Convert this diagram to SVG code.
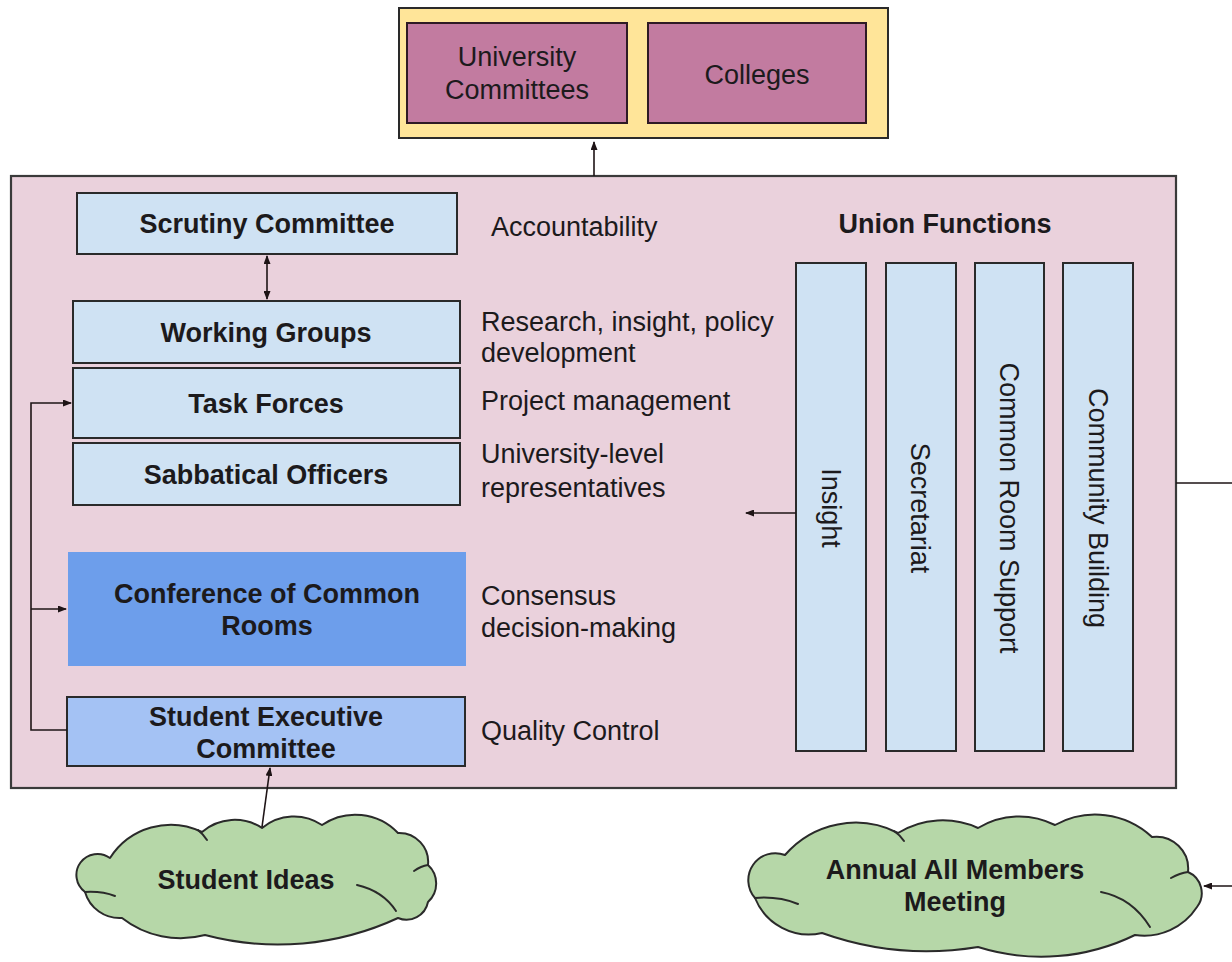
<svg xmlns="http://www.w3.org/2000/svg" width="1232" height="962" viewBox="0 0 1232 962">
  <style>
    .t { font-family: "Liberation Sans", Arial, sans-serif; font-size: 27px; fill: #1c1a1c; }
    .b { font-weight: bold; }
    .c { text-anchor: middle; }
    .box { fill: #cfe2f3; stroke: #2a2a2a; stroke-width: 2; }
    .uni { fill: #c27ba0; stroke: #2e1a24; stroke-width: 2; }
    .bar { fill: #cfe2f3; stroke: #2a2a2a; stroke-width: 2; }
    .cloud { fill: #b6d7a8; stroke: #2a2a2a; stroke-width: 2; stroke-linejoin: round; }
    .hook { fill: none; stroke: #2a2a2a; stroke-width: 2; stroke-linecap: round; }
    .wire { fill: none; stroke: #1e1416; stroke-width: 1.6; }
  </style>
  <defs>
    <marker id="arrow" markerUnits="userSpaceOnUse" markerWidth="9" markerHeight="7" refX="8" refY="3.5" orient="auto-start-reverse">
      <path d="M0,0 L9,3.5 L0,7 z" fill="#1e1416"/>
    </marker>
  </defs>

  <!-- external bodies -->
  <g id="external">
    <rect x="399" y="8" width="489" height="130" fill="#ffe599" stroke="#2a2a2a" stroke-width="2"/>
    <g id="university-committees">
      <rect class="uni" x="407" y="23" width="220" height="100"/>
      <text class="t c" x="517" y="66">University</text>
      <text class="t c" x="517" y="99">Committees</text>
    </g>
    <g id="colleges">
      <rect class="uni" x="648" y="23" width="218" height="100"/>
      <text class="t c" x="757" y="84">Colleges</text>
    </g>
  </g>

  <!-- union container -->
  <g id="union">
    <rect x="11" y="176" width="1165" height="612" fill="#ead1dc" stroke="#3a3a3a" stroke-width="2.2"/>
  </g>

  <g id="scrutiny-committee">
    <rect class="box" x="77" y="193" width="380" height="61"/>
    <text class="t b c" x="267" y="233">Scrutiny Committee</text>
  </g>
  <g id="working-groups">
    <rect class="box" x="73" y="301" width="387" height="62"/>
    <text class="t b c" x="266" y="342">Working Groups</text>
  </g>
  <g id="task-forces">
    <rect class="box" x="73" y="368" width="387" height="70"/>
    <text class="t b c" x="266" y="413">Task Forces</text>
  </g>
  <g id="sabbatical-officers">
    <rect class="box" x="73" y="443" width="387" height="62"/>
    <text class="t b c" x="266" y="484">Sabbatical Officers</text>
  </g>
  <g id="conference">
    <rect x="68" y="552" width="398" height="114" fill="#6d9eeb"/>
    <text class="t b c" x="267" y="603">Conference of Common</text>
    <text class="t b c" x="267" y="635">Rooms</text>
  </g>
  <g id="student-executive">
    <rect x="67" y="697" width="398" height="69" fill="#a4c2f4" stroke="#2a2a2a" stroke-width="2"/>
    <text class="t b c" x="266" y="726">Student Executive</text>
    <text class="t b c" x="266" y="758">Committee</text>
  </g>

  <!-- role descriptions -->
  <g id="roles">
    <text class="t" x="491" y="236">Accountability</text>
    <text class="t" x="481" y="331">Research, insight, policy</text>
    <text class="t" x="481" y="362">development</text>
    <text class="t" x="481" y="410">Project management</text>
    <text class="t" x="481" y="463">University-level</text>
    <text class="t" x="481" y="497">representatives</text>
    <text class="t" x="481" y="605">Consensus</text>
    <text class="t" x="481" y="637">decision-making</text>
    <text class="t" x="481" y="740">Quality Control</text>
  </g>

  <!-- union functions -->
  <g id="union-functions">
    <text class="t b c" x="945" y="233">Union Functions</text>
    <g id="insight">
      <rect class="bar" x="796" y="263" width="70" height="488"/>
      <text class="t c" dominant-baseline="central" transform="translate(831 508) rotate(90)">Insight</text>
    </g>
    <g id="secretariat">
      <rect class="bar" x="886" y="263" width="70" height="488"/>
      <text class="t c" dominant-baseline="central" transform="translate(920 508) rotate(90)">Secretariat</text>
    </g>
    <g id="common-room-support">
      <rect class="bar" x="975" y="263" width="69" height="488"/>
      <text class="t c" dominant-baseline="central" transform="translate(1009 508) rotate(90)">Common Room Support</text>
    </g>
    <g id="community-building">
      <rect class="bar" x="1063" y="263" width="70" height="488"/>
      <text class="t c" dominant-baseline="central" transform="translate(1098 508) rotate(90)">Community Building</text>
    </g>
  </g>

  <!-- clouds -->
  <g id="student-ideas">
    <path class="cloud" d="M110 858 A72 72 0 0 1 202 832 A50 50 0 0 1 262 828 A50 50 0 0 1 322 825 A59 59 0 0 1 398 833 A29 29 0 0 1 428 865 A25 25 0 0 1 428 902 A22 22 0 0 1 398 918 A285 285 0 0 1 205 935 A95 95 0 0 1 122 918 A36 36 0 0 1 85 892 A21 21 0 0 1 110 858 Z"/>
    <path class="hook" d="M85 892 Q102 891 115 896"/>
    <path class="hook" d="M428 865 Q421 866 414 871"/>
    <path class="hook" d="M357 885 Q383 891 396 911"/>
    <path class="hook" d="M198 830 Q203 834 207 840"/>
    <text class="t b c" x="246" y="889">Student Ideas</text>
  </g>
  <g id="annual-meeting">
    <path class="cloud" d="M785 855 A93 93 0 0 1 898 833 A85 85 0 0 1 978 828 A79 79 0 0 1 1055 825 A83 83 0 0 1 1152 837 A32 32 0 0 1 1188 872 A23 23 0 0 1 1197 907 A63 63 0 0 1 1135 935 A213 213 0 0 1 978 947 A313 313 0 0 1 822 933 A58 58 0 0 1 755 898 A27 27 0 0 1 785 855 Z"/>
    <path class="hook" d="M755 898 Q778 896 798 904"/>
    <path class="hook" d="M1188 872 Q1180 873 1171 878"/>
    <path class="hook" d="M1101 892 Q1132 898 1150 927"/>
    <path class="hook" d="M894 831 Q900 835 904 841"/>
    <text class="t b c" x="955" y="879">Annual All Members</text>
    <text class="t b c" x="955" y="911">Meeting</text>
  </g>

  <!-- connectors -->
  <g id="connectors">
    <path class="wire" d="M594 176 V142" marker-end="url(#arrow)"/>
    <path class="wire" d="M267 256 V299" marker-start="url(#arrow)" marker-end="url(#arrow)"/>
    <path class="wire" d="M67 730 H31 V403 H71" marker-end="url(#arrow)"/>
    <path class="wire" d="M31 609 H66" marker-end="url(#arrow)"/>
    <path class="wire" d="M262 827 L270 768" marker-end="url(#arrow)"/>
    <path class="wire" d="M796 513 H746" marker-end="url(#arrow)"/>
    <path class="wire" d="M1176 483 H1240 V886 H1204" marker-end="url(#arrow)"/>
  </g>
</svg>
